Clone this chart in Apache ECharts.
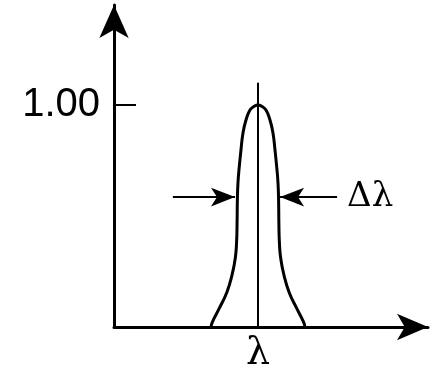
<!DOCTYPE html>
<html>
<head>
<meta charset="utf-8">
<script src="https://cdn.jsdelivr.net/npm/echarts@6/dist/echarts.min.js"></script>
<style>
  html, body { margin: 0; padding: 0; background: #fff; }
  #main { width: 436px; height: 375px; }
</style>
</head>
<body>
<div id="main"></div>
<script>
// spectral line profile, x in half-base-width units, y normalised to peak
var curveX = [-1.02, -0.99, -0.837, -0.674, -0.565, -0.493, -0.465, -0.455, -0.448, -0.435, -0.407, -0.37, -0.326, -0.261, -0.174, -0.087, 0,
              0.087, 0.174, 0.261, 0.326, 0.37, 0.407, 0.435, 0.448, 0.455, 0.465, 0.493, 0.565, 0.674, 0.837, 0.99, 1.02];
var curveY = [0, 0.023, 0.086, 0.158, 0.234, 0.311, 0.383, 0.459, 0.572, 0.649, 0.721, 0.797, 0.874, 0.932, 0.977, 0.993, 1.0,
              0.993, 0.977, 0.932, 0.874, 0.797, 0.721, 0.649, 0.572, 0.459, 0.383, 0.311, 0.234, 0.158, 0.086, 0.023, 0];
var centerX = [0, 0];
var centerY = [0, 1.10];
var arrowY = 0.585;
var arrowLeft = [-1.85, -0.50];
var arrowRight = [1.72, 0.48];
var yTicks = [1];
var yTickLabels = ['1.00'];
var xTicks = [0];
var xTickLabels = ['λ'];
var widthLabel = 'Δλ';

function pairs(xs, ys) {
  var out = [];
  for (var i = 0; i < xs.length; i++) out.push([xs[i], ys[i]]);
  return out;
}

var myChart = echarts.init(document.getElementById('main'));

var option = {
  animation: false,
  grid: { left: 114, top: 5, right: 8, bottom: 48, outerBoundsMode: 'none' },
  xAxis: {
    type: 'value',
    min: -3.13,
    max: 3.696,
    splitLine: { show: false },
    axisLine: {
      onZero: false,
      symbol: ['none', 'arrow'],
      symbolSize: [20, 31],
      lineStyle: { color: '#000', width: 3 }
    },
    axisTick: { show: false },
    axisLabel: {
      customValues: xTicks,
      formatter: function (v) { return xTickLabels[xTicks.indexOf(v)] || ''; },
      color: '#000',
      fontFamily: 'DejaVu Serif',
      fontSize: 38,
      margin: 8
    }
  },
  yAxis: {
    type: 'value',
    min: 0,
    max: 1.45,
    splitLine: { show: false },
    axisLine: {
      onZero: false,
      symbol: ['none', 'arrow'],
      symbolSize: [22, 33],
      lineStyle: { color: '#000', width: 3 }
    },
    axisTick: {
      customValues: yTicks,
      inside: true,
      length: 22,
      lineStyle: { color: '#000', width: 2 }
    },
    axisLabel: {
      customValues: yTicks,
      formatter: function (v) { return yTickLabels[yTicks.indexOf(v)] || ''; },
      color: '#000',
      fontFamily: 'Liberation Sans',
      fontSize: 40,
      margin: 14
    }
  },
  series: [
    {
      name: 'profile',
      type: 'line',
      data: pairs(curveX, curveY),
      smooth: 0.5,
      showSymbol: false,
      lineStyle: { color: '#000', width: 3 }
    },
    {
      name: 'center',
      type: 'line',
      data: pairs(centerX, centerY),
      showSymbol: false,
      lineStyle: { color: '#000', width: 2 },
      markLine: {
        silent: true,
        symbol: ['none', 'arrow'],
        symbolSize: [14, 24],
        lineStyle: { color: '#000', width: 2, type: 'solid' },
        label: {
          show: true,
          position: 'start',
          formatter: '{b}',
          color: '#000',
          fontFamily: 'DejaVu Serif',
          fontSize: 34,
          distance: 10
        },
        data: [
          [{ name: '', coord: [arrowLeft[0], arrowY] }, { coord: [arrowLeft[1], arrowY] }],
          [{ name: widthLabel, coord: [arrowRight[0], arrowY] }, { coord: [arrowRight[1], arrowY] }]
        ]
      }
    }
  ]
};

myChart.setOption(option);
</script>
</body>
</html>
